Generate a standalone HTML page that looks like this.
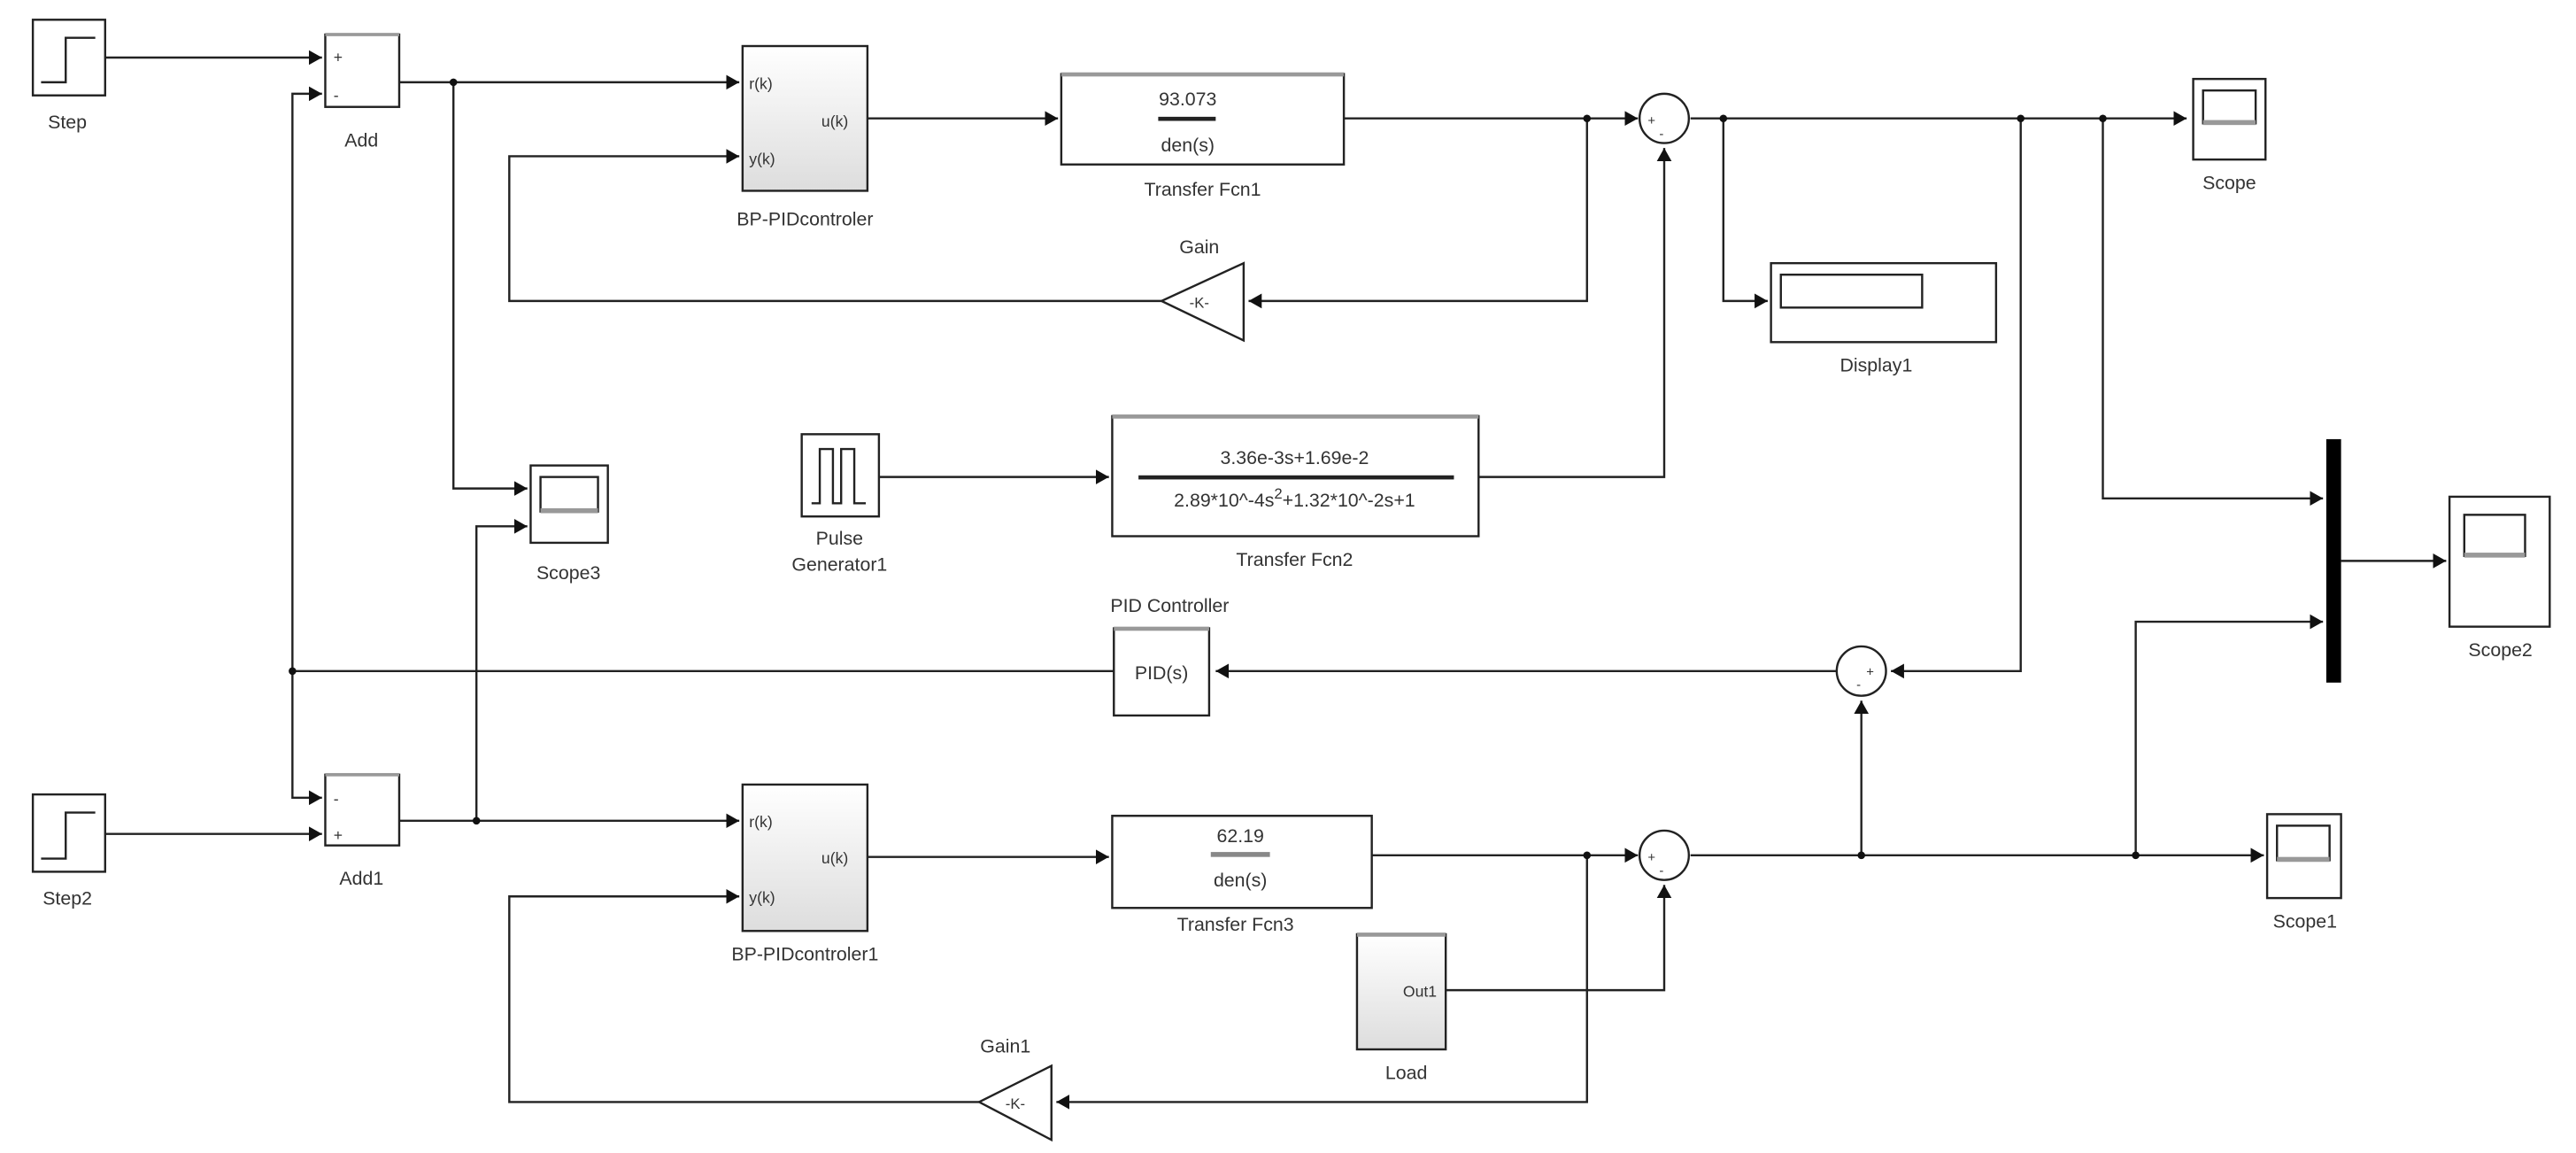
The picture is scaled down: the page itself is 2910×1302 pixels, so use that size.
<!DOCTYPE html>
<html><head><meta charset="utf-8"><style>
html,body{margin:0;padding:0;background:#fff;}
svg{display:block;}
text{font-family:"Liberation Sans",sans-serif;fill:#333;}
</style></head><body>
<svg width="2910" height="1302" viewBox="0 0 1568 701" preserveAspectRatio="none" xmlns="http://www.w3.org/2000/svg">
<defs>
<marker id="a" markerUnits="userSpaceOnUse" markerWidth="10" markerHeight="10" refX="8" refY="4.5" orient="auto">
<path d="M0,0 L8,4.5 L0,9 Z" fill="#111"/>
</marker>
<linearGradient id="g" x1="0" y1="0" x2="0" y2="1"><stop offset="0" stop-color="#fff"/><stop offset="1" stop-color="#ddd"/></linearGradient>
</defs>
<g fill="none" stroke="#222" stroke-width="1.3">
<!-- top loop -->
<path d="M64 35 H196" marker-end="url(#a)"/>
<path d="M178 408 V57 H196" marker-end="url(#a)"/>
<path d="M243 50 H450" marker-end="url(#a)"/>
<path d="M276 50 V297 H321" marker-end="url(#a)"/>
<path d="M528 72 H644" marker-end="url(#a)"/>
<path d="M818 72 H997" marker-end="url(#a)"/>
<path d="M966 72 V183 H760" marker-end="url(#a)"/>
<path d="M707 183 H310 V95 H450" marker-end="url(#a)"/>
<path d="M1029 72 H1331" marker-end="url(#a)"/>
<path d="M1049 72 V183 H1076" marker-end="url(#a)"/>
<path d="M1230 72 V408 H1151" marker-end="url(#a)"/>
<path d="M1280 72 V303 H1414" marker-end="url(#a)"/>
<path d="M1425 341 H1489" marker-end="url(#a)"/>
<path d="M1300 520 V378 H1414" marker-end="url(#a)"/>
<!-- pulse / tf2 -->
<path d="M535 290 H675" marker-end="url(#a)"/>
<path d="M900 290 H1013 V90" marker-end="url(#a)"/>
<!-- PID -->
<path d="M1118 408 H740" marker-end="url(#a)"/>
<path d="M678 408 H178 V485 H196" marker-end="url(#a)"/>
<path d="M1133 520 V426" marker-end="url(#a)"/>
<!-- bottom loop -->
<path d="M64 507 H196" marker-end="url(#a)"/>
<path d="M243 499 H450" marker-end="url(#a)"/>
<path d="M290 499 V320 H321" marker-end="url(#a)"/>
<path d="M528 521 H675" marker-end="url(#a)"/>
<path d="M835 520 H997" marker-end="url(#a)"/>
<path d="M966 520 V670 H643" marker-end="url(#a)"/>
<path d="M596 670 H310 V545 H450" marker-end="url(#a)"/>
<path d="M880 602 H1013 V538" marker-end="url(#a)"/>
<path d="M1029 520 H1378" marker-end="url(#a)"/>
</g>
<g fill="#111">
<circle cx="276" cy="50" r="2.3"/><circle cx="966" cy="72" r="2.3"/><circle cx="1049" cy="72" r="2.3"/>
<circle cx="1230" cy="72" r="2.3"/><circle cx="1280" cy="72" r="2.3"/><circle cx="178" cy="408" r="2.3"/>
<circle cx="290" cy="499" r="2.3"/><circle cx="966" cy="520" r="2.3"/><circle cx="1133" cy="520" r="2.3"/>
<circle cx="1300" cy="520" r="2.3"/>
</g>
<g stroke="#222" stroke-width="1.3" fill="#fff">
<!-- Step -->
<rect x="20" y="12" width="44" height="46"/>
<path d="M25 50 H40 V23 H58" fill="none"/>
<rect x="20" y="483" width="44" height="47"/>
<path d="M25 522 H40 V494 H58" fill="none"/>
<!-- Add -->
<rect x="198" y="21" width="45" height="44"/>
<rect x="198" y="471" width="45" height="43"/>
<!-- BP -->
<rect x="452" y="28" width="76" height="88" fill="url(#g)"/>
<rect x="452" y="477" width="76" height="89" fill="url(#g)"/>
<!-- TF -->
<rect x="646" y="45" width="172" height="55"/>
<rect x="677" y="253" width="223" height="73"/>
<rect x="677" y="496" width="158" height="56"/>
<!-- Gains -->
<path d="M757 160 L707 183 L757 207 Z"/>
<path d="M640 648 L596 670 L640 693 Z"/>
<!-- Sums -->
<circle cx="1013" cy="72" r="15"/>
<circle cx="1133" cy="408" r="15"/>
<circle cx="1013" cy="520" r="15"/>
<!-- Display -->
<rect x="1078" y="160" width="137" height="48"/>
<rect x="1084" y="167" width="86" height="20"/>
<!-- Scopes -->
<rect x="1335" y="48" width="44" height="49"/>
<rect x="1341" y="55" width="32" height="20"/>
<rect x="323" y="283" width="47" height="47"/>
<rect x="329" y="290" width="35" height="21"/>
<rect x="1491" y="302" width="61" height="79"/>
<rect x="1500" y="313" width="37" height="25"/>
<rect x="1380" y="495" width="45" height="51"/>
<rect x="1386" y="502" width="32" height="21"/>
<!-- Pulse -->
<rect x="488" y="264" width="47" height="50"/>
<path d="M494 306 H499 V273 H507 V306 H512 V273 H520 V306 H527" fill="none"/>
<!-- PID -->
<rect x="678" y="382" width="58" height="53"/>
<!-- Load -->
<rect x="826" y="568" width="54" height="70" fill="url(#g)"/>
</g>
<!-- mux -->
<rect x="1416" y="267" width="9" height="148" fill="#000"/>
<!-- gray shadows -->
<g fill="#999">
<rect x="198" y="20" width="45" height="2"/><rect x="198" y="470" width="45" height="2"/>
<rect x="646" y="44" width="172" height="2.5"/><rect x="677" y="252" width="223" height="2.5"/>
<rect x="678" y="381" width="58" height="2.5"/><rect x="826" y="567" width="54" height="2.5"/>
<rect x="1341" y="73" width="32" height="3"/><rect x="329" y="309" width="35" height="3"/>
<rect x="1500" y="336" width="37" height="3"/><rect x="1386" y="521" width="32" height="3"/>
</g>
<rect x="705" y="71" width="35" height="2.5" fill="#222"/>
<rect x="693" y="289" width="192" height="2.5" fill="#222"/>
<rect x="737" y="518" width="36" height="3" fill="#888"/>
<g font-size="11.5" text-anchor="middle">
<text x="41" y="78">Step</text>
<text x="41" y="550">Step2</text>
<text x="220" y="89">Add</text>
<text x="220" y="538">Add1</text>
<text x="490" y="137">BP-PIDcontroler</text>
<text x="490" y="584">BP-PIDcontroler1</text>
<text x="732" y="119">Transfer Fcn1</text>
<text x="788" y="344">Transfer Fcn2</text>
<text x="752" y="566">Transfer Fcn3</text>
<text x="730" y="154">Gain</text>
<text x="612" y="640">Gain1</text>
<text x="1142" y="226">Display1</text>
<text x="1357" y="115">Scope</text>
<text x="346" y="352">Scope3</text>
<text x="1522" y="399">Scope2</text>
<text x="1403" y="564">Scope1</text>
<text x="511" y="331">Pulse</text>
<text x="511" y="347">Generator1</text>
<text x="712" y="372">PID Controller</text>
<text x="856" y="656">Load</text>
<text x="707" y="413">PID(s)</text>
<text x="723" y="64">93.073</text>
<text x="723" y="92">den(s)</text>
<text x="755" y="512">62.19</text>
<text x="755" y="539">den(s)</text>
<text x="788" y="282">3.36e-3s+1.69e-2</text>
<text x="788" y="308">2.89*10^-4s<tspan dy="-5" font-size="9">2</tspan><tspan dy="5">+1.32*10^-2s+1</tspan></text>
</g>
<g font-size="9.5">
<text x="456" y="54">r(k)</text><text x="456" y="100">y(k)</text><text x="500" y="77">u(k)</text>
<text x="456" y="503">r(k)</text><text x="456" y="549">y(k)</text><text x="500" y="525">u(k)</text>
<text x="854" y="606">Out1</text>
<text x="203" y="38">+</text><text x="203" y="61">-</text>
<text x="203" y="489">-</text><text x="203" y="511">+</text>
<text x="1003" y="76" font-size="8">+</text><text x="1010" y="84" font-size="8">-</text>
<text x="1003" y="524" font-size="8">+</text><text x="1010" y="532" font-size="8">-</text>
<text x="1136" y="411" font-size="8">+</text><text x="1130" y="419" font-size="8">-</text>
<text x="724" y="187" font-size="9">-K-</text>
<text x="612" y="674" font-size="9">-K-</text>
</g>
</svg>
</body></html>
